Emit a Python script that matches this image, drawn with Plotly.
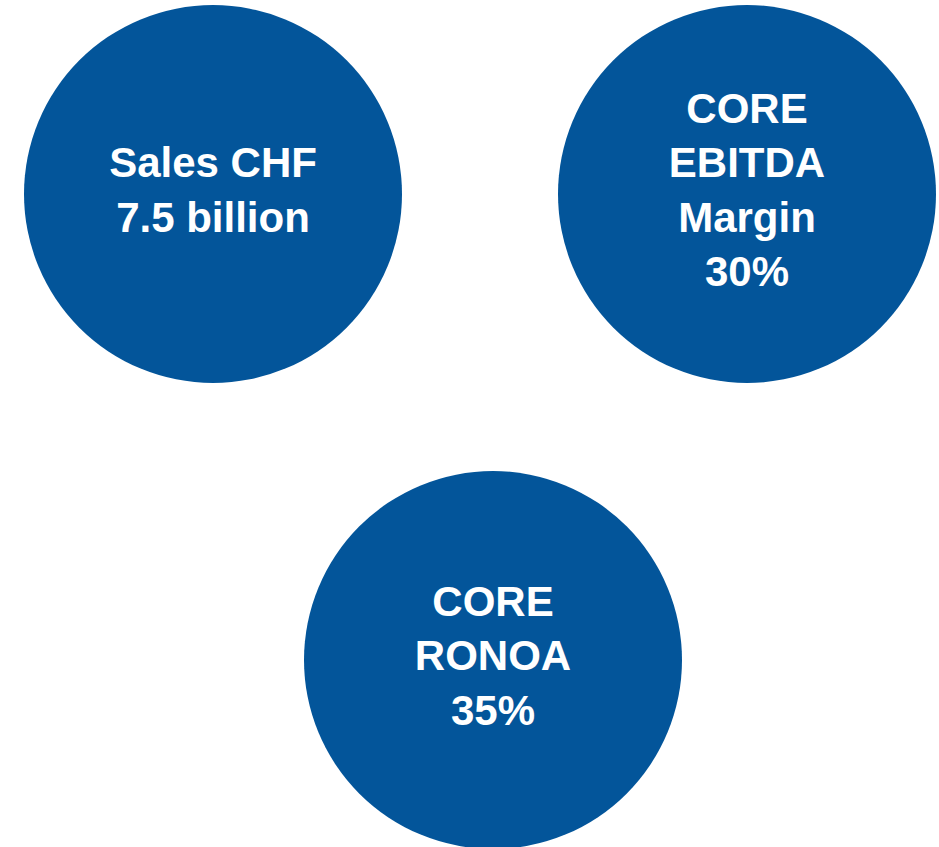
import plotly.graph_objects as go

# Data
labels = ["Sales CHF<br>7.5 billion", "CORE<br>EBITDA<br>Margin<br>30%", "CORE<br>RONOA<br>35%"]
center_x = [213, 747, 493]
center_y = [194, 194, 660]
radius = [189, 189, 189]

BLUE = "#03559A"
W, H = 939, 847

fig = go.Figure()

for cx, cy, r in zip(center_x, center_y, radius):
    fig.add_shape(type="circle", xref="x", yref="y",
                  x0=cx - r, x1=cx + r, y0=cy - r, y1=cy + r,
                  fillcolor=BLUE, line=dict(width=0), layer="below")

fig.add_trace(go.Scatter(
    x=center_x, y=center_y, mode="text", text=labels,
    textposition="middle center",
    textfont=dict(family="Liberation Sans, Arial, sans-serif", size=42, color="white", weight="bold"),
    hoverinfo="skip", showlegend=False,
))

fig.update_xaxes(range=[0, W], visible=False, fixedrange=True)
fig.update_yaxes(range=[H, 0], visible=False, fixedrange=True)
fig.update_layout(
    width=W, height=H,
    margin=dict(l=0, r=0, t=0, b=0),
    paper_bgcolor="white", plot_bgcolor="white",
    showlegend=False,
)

fig.write_html(
    "out.html",
    config={"displayModeBar": False},
    post_script="document.body.style.margin='0';document.body.style.overflow='hidden';",
)
